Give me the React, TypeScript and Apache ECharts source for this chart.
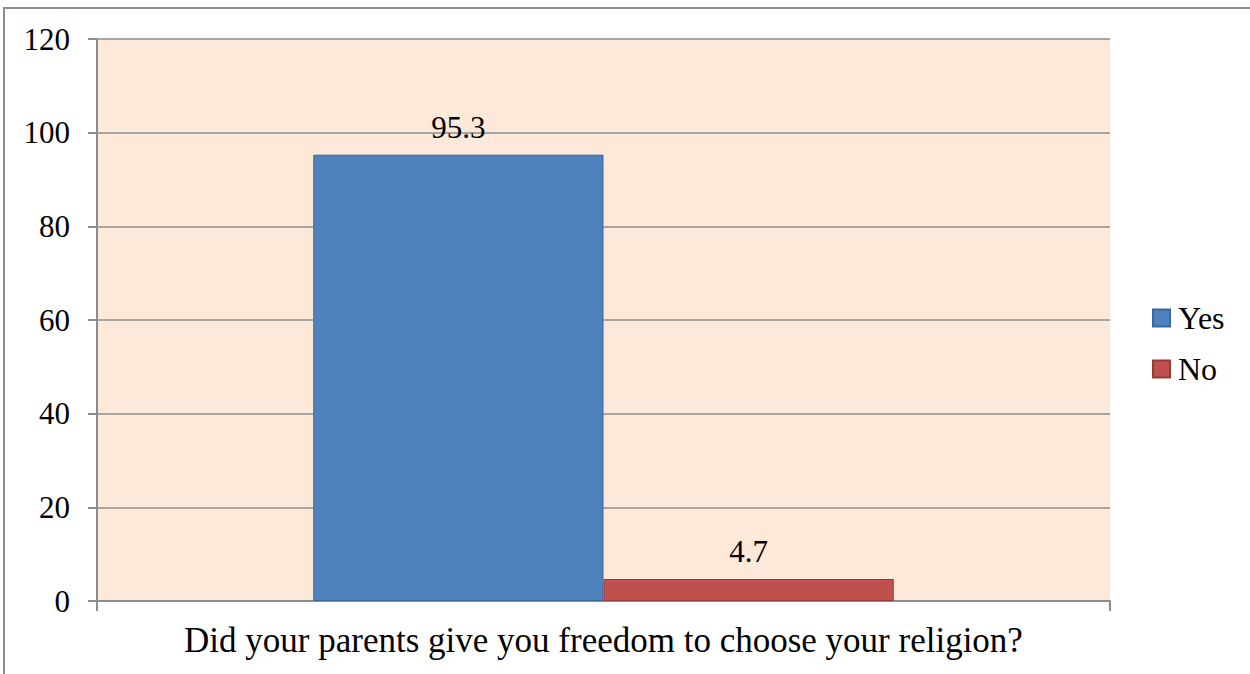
import React, { useEffect, useRef } from "react";
import * as echarts from "echarts";

const categories = ["Did your parents give you freedom to choose your religion?"];
const yesValues = [95.3];
const noValues = [4.7];
const yTicks = { min: 0, max: 120, interval: 20 };

const FONT = "'Liberation Serif', 'Times New Roman', serif";

export default function App() {
  const ref = useRef<HTMLDivElement>(null);

  useEffect(() => {
    if (!ref.current) return;
    const chart = echarts.init(ref.current, undefined, { renderer: "svg" });
    const labelStyle = {
      show: true,
      position: "top" as const,
      distance: 12,
      color: "#000",
      fontFamily: FONT,
      fontSize: 31,
    };
    chart.setOption({
      animation: false,
      backgroundColor: "#fff",
      textStyle: { fontFamily: FONT },
      graphic: [
        {
          type: "rect",
          shape: { x: 4, y: 8, width: 1400, height: 800 },
          style: { fill: "none", stroke: "#8c8c8c", lineWidth: 2 },
          silent: true,
        },
      ],
      grid: {
        left: 97,
        right: 140,
        top: 39,
        bottom: 73,
        show: true,
        backgroundColor: "#fde9d9",
        borderWidth: 0,
      },
      legend: {
        orient: "vertical",
        left: 1147,
        top: 297,
        itemWidth: 17,
        itemHeight: 17,
        itemGap: 19,
        icon: "rect",
        textStyle: { fontFamily: FONT, fontSize: 32, color: "#000", lineHeight: 32, padding: [0, 0, 0, 3] },
        data: ["Yes", "No"],
      },
      xAxis: {
        type: "category",
        data: categories,
        axisLine: { show: true, lineStyle: { color: "#8c8c8c", width: 2 } },
        axisTick: { show: true, length: 10, lineStyle: { color: "#8c8c8c", width: 2 } },
        axisLabel: { color: "#000", fontFamily: FONT, fontSize: 35, margin: 22 },
      },
      yAxis: {
        type: "value",
        min: yTicks.min,
        max: yTicks.max,
        interval: yTicks.interval,
        axisLine: { show: true, lineStyle: { color: "#8c8c8c", width: 2 } },
        axisTick: { show: true, length: 9, lineStyle: { color: "#8c8c8c", width: 2 } },
        axisLabel: { color: "#000", fontFamily: FONT, fontSize: 31, margin: 27 },
        splitLine: { show: true, lineStyle: { color: "#8c8c8c", width: 1.5 } },
      },
      series: [
        {
          name: "Yes",
          type: "bar",
          data: yesValues,
          barGap: "0%",
          barCategoryGap: "42.7%",
          itemStyle: { color: "#4f81bd", borderColor: "#3a679c", borderWidth: 1 },
          label: labelStyle,
        },
        {
          name: "No",
          type: "bar",
          data: noValues,
          barGap: "0%",
          barCategoryGap: "42.7%",
          itemStyle: { color: "#c0504d", borderColor: "#933c3a", borderWidth: 1 },
          label: labelStyle,
        },
      ],
    });
    return () => chart.dispose();
  }, []);

  return (
    <div
      ref={ref}
      style={{ position: "fixed", left: 0, top: 0, width: 1250, height: 674 }}
    />
  );
}
